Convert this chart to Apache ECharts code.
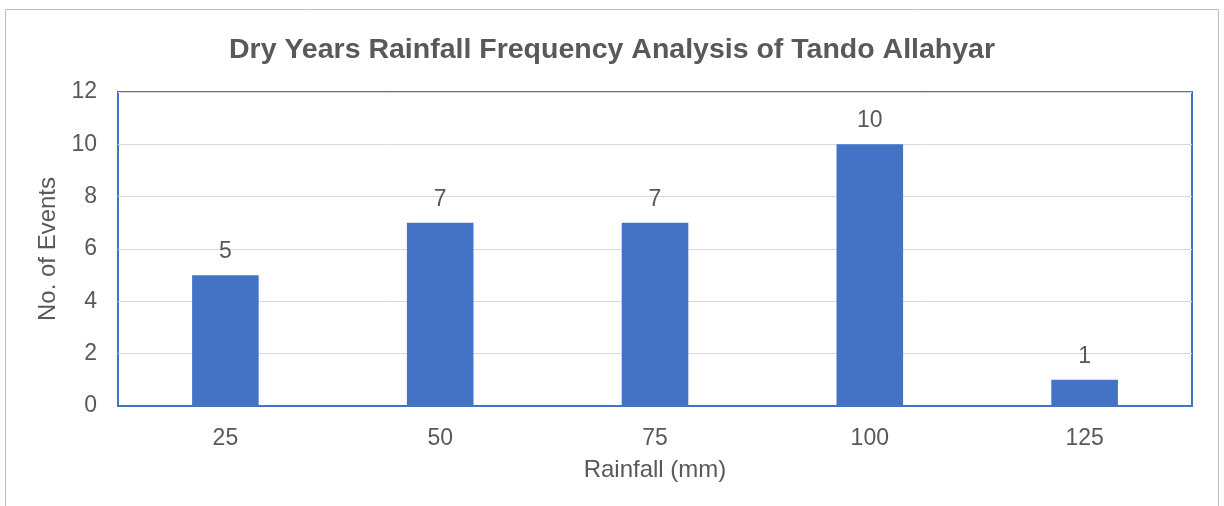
<!DOCTYPE html>
<html>
<head>
<meta charset="utf-8">
<script src="https://cdn.jsdelivr.net/npm/echarts@6/dist/echarts.min.js"></script>
<style>
  html, body { margin: 0; padding: 0; background: #ffffff; }
  #chart { width: 1224px; height: 506px; }
</style>
</head>
<body>
<div id="chart"></div>
<script>
// Rainfall classes (mm) and number of dry-year events in each
const categories = ['25', '50', '75', '100', '125'];
const eventCounts = [5, 7, 7, 10, 1];
const yTicks = [0, 2, 4, 6, 8, 10, 12];

const chart = echarts.init(document.getElementById('chart'), null, { renderer: 'canvas' });
const font = '"Liberation Sans", Arial, sans-serif';
const textColor = '#595959';

chart.setOption({
  backgroundColor: '#ffffff',
  animation: false,
  textStyle: { fontFamily: font },
  title: {
    text: 'Dry Years Rainfall Frequency Analysis of Tando Allahyar',
    left: 'center',
    top: 31,
    textStyle: { fontFamily: font, fontSize: 28.5, fontWeight: 'bold', color: textColor }
  },
  graphic: [{
    type: 'rect',
    shape: { x: 5.5, y: 9.5, width: 1213, height: 520 },
    style: { fill: 'none', stroke: '#bfbfbf', lineWidth: 1 },
    silent: true
  }],
  grid: {
    left: 118, right: 32, top: 92, bottom: 100,
    show: true,
    borderColor: '#4472C4',
    borderWidth: 2,
    backgroundColor: 'transparent'
  },
  xAxis: {
    type: 'category',
    data: categories,
    name: 'Rainfall (mm)',
    nameLocation: 'middle',
    nameGap: 52,
    nameTextStyle: { fontFamily: font, fontSize: 24, color: textColor },
    axisLine: { show: true, lineStyle: { color: '#4472C4', width: 2 } },
    axisTick: { show: false },
    axisLabel: { fontFamily: font, fontSize: 23, color: textColor, margin: 21 }
  },
  yAxis: {
    type: 'value',
    min: yTicks[0],
    max: yTicks[yTicks.length - 1],
    interval: 2,
    name: 'No. of Events',
    nameLocation: 'middle',
    nameGap: 53,
    nameRotate: 90,
    nameTextStyle: { fontFamily: font, fontSize: 24, color: textColor },
    axisLine: { show: false },
    axisTick: { show: false },
    axisLabel: { fontFamily: font, fontSize: 23, color: textColor, margin: 21 },
    splitLine: { show: true, lineStyle: { color: '#d9d9d9', width: 1 } }
  },
  series: [{
    type: 'bar',
    data: eventCounts,
    barWidth: '31%',
    itemStyle: { color: '#4472C4' },
    label: {
      show: true,
      position: 'top',
      distance: 12,
      fontFamily: font,
      fontSize: 23,
      color: textColor
    }
  }]
});
</script>
</body>
</html>
